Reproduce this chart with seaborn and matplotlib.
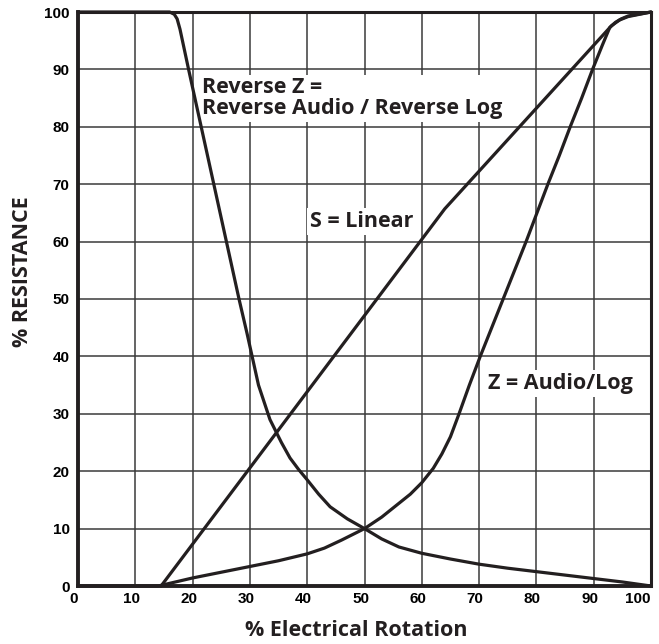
import matplotlib
matplotlib.use("Agg")
import matplotlib.pyplot as plt
import matplotlib.transforms as mtransforms
import seaborn as sns
import pandas as pd

# ---- data ----
linear_x = [14.5, 64.0, 93.1, 94.5, 96.0, 100.0]
linear_y = [0.0, 65.7, 97.6, 98.6, 99.2, 100.0]

audio_x = [0, 14, 17, 20, 25, 30, 35, 40, 43, 46, 50, 53, 56, 58, 60, 62, 63.5, 65, 66.5,
           68.3, 70.2, 72.2, 74.2, 76.2, 78.2, 80.1, 82.0, 84.0, 85.9, 87.9, 89.8, 91.5,
           92.8, 93.8, 94.8, 96, 100]
audio_y = [0, 0, 0.7, 1.4, 2.4, 3.4, 4.4, 5.6, 6.6, 8, 10, 12, 14.4, 16, 18, 20.5, 23, 26, 30,
           35, 40, 45, 50, 55, 60, 65, 70, 75, 80, 85, 90, 94.2,
           97.3, 98.2, 98.8, 99.3, 100]

reverse_x = [0, 16, 16.8, 17.3, 17.8, 19.3, 21.5, 23.7, 25.9, 28.1, 29.5, 31.5, 33.5, 35.5,
             37, 38.5, 40, 42, 44, 47, 50, 53, 56, 60, 65, 70, 75, 80, 85, 90, 95, 100]
reverse_y = [100, 100, 99.6, 98.8, 97, 90, 80, 70, 60, 50, 44, 35, 29, 25,
             22.3, 20.3, 18.5, 16, 13.8, 11.7, 10, 8.2, 6.8, 5.7, 4.7, 3.8, 3.1, 2.5, 1.9, 1.3, 0.7, 0]

x_ticks = [0, 10, 20, 30, 40, 50, 60, 70, 80, 90, 100]
y_ticks = [0, 10, 20, 30, 40, 50, 60, 70, 80, 90, 100]

labels = {
    "reverse": "Reverse Z =\nReverse Audio / Reverse Log",
    "linear": "S = Linear",
    "audio": "Z = Audio/Log",
}

frames = []
for name, xs, ys in [("linear", linear_x, linear_y),
                     ("audio", audio_x, audio_y),
                     ("reverse", reverse_x, reverse_y)]:
    frames.append(pd.DataFrame({"x": xs, "y": ys, "curve": name}))
df = pd.concat(frames, ignore_index=True)

sns.set_theme(style="white")
plt.rcParams["font.family"] = ["Liberation Sans", "DejaVu Sans"]

ink = "#231f20"
fig = plt.figure(figsize=(6.59, 6.44), dpi=100)
ax = fig.add_axes([78 / 659, 1 - 586 / 644, (651 - 78) / 659, (586 - 12) / 644])

sns.lineplot(data=df, x="x", y="y", hue="curve", units="curve", estimator=None,
             sort=False, palette={"linear": ink, "audio": ink, "reverse": ink},
             linewidth=2.3, legend=False, ax=ax, zorder=4, clip_on=False)
for ln in ax.get_lines():
    ln.set_solid_joinstyle("round")
    ln.set_solid_capstyle("round")

ax.set_xlim(0, 100)
ax.set_ylim(0, 100)
ax.set_xticks(x_ticks)
ax.set_yticks(y_ticks)
ax.grid(True, color="#3a3a3a", linewidth=1.1, zorder=1)
ax.set_axisbelow(True)
ax.tick_params(length=0, pad=6, labelsize=11, colors="black")
ax.tick_params(axis="x", pad=4)
shift = mtransforms.ScaledTranslation(-4 / 100, 0, fig.dpi_scale_trans)
xlabs = ax.get_xticklabels()
for lab in xlabs + ax.get_yticklabels():
    lab.set_fontweight("bold")
for lab in xlabs[:-1]:
    lab.set_transform(lab.get_transform() + shift)
xlabs[-1].set_horizontalalignment("right")

for side in ["left", "bottom"]:
    ax.spines[side].set_linewidth(2.8)
for side in ["top", "right"]:
    ax.spines[side].set_linewidth(2.2)
for s in ax.spines.values():
    s.set_color(ink)
    s.set_zorder(5)

tfont = dict(family=["Open Sans", "DejaVu Sans"], fontweight="bold", fontsize=15.5, color=ink)
box = dict(facecolor="white", edgecolor="none", pad=2)
ax.text(21.7, 88.6, labels["reverse"], ha="left", va="top", linespacing=1.0, bbox=box, zorder=3, **tfont)
ax.text(40.5, 63.5, labels["linear"], ha="left", va="center", bbox=box, zorder=3, **tfont)
ax.text(71.5, 35.3, labels["audio"], ha="left", va="center", bbox=box, zorder=3, **tfont)

ax.set_xlabel("% Electrical Rotation", family=["Open Sans", "DejaVu Sans"], fontweight="bold", fontsize=15.5, color=ink)
ax.set_ylabel("% RESISTANCE", family=["Open Sans", "DejaVu Sans"], fontweight="bold", fontsize=15.5, color=ink)
ax.xaxis.set_label_coords((356 - 78) / (651 - 78), (586 - 631) / (586 - 12))
ax.yaxis.set_label_coords((23 - 78) / (651 - 78), (586 - 272) / (586 - 12))
ax.xaxis.label.set_va("center")
ax.yaxis.label.set_va("center")

fig.savefig("out.png", dpi=100)
